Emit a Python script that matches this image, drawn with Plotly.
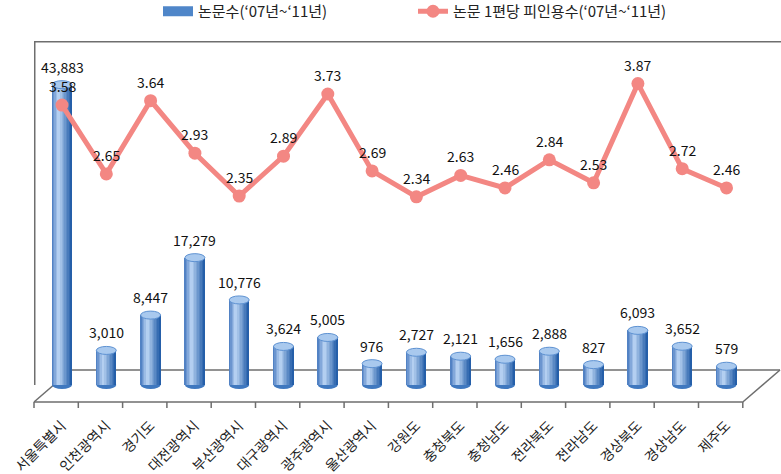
import plotly.graph_objects as go

categories = ['서울특별시', '인천광역시', '경기도', '대전광역시', '부산광역시', '대구광역시',
              '광주광역시', '울산광역시', '강원도', '충청북도', '충청남도', '전라북도',
              '전라남도', '경상북도', '경상남도', '제주도']
papers = [43883, 3010, 8447, 17279, 10776, 3624, 5005, 976, 2727, 2121, 1656, 2888,
          827, 6093, 3652, 579]
cites = [3.58, 2.65, 3.64, 2.93, 2.35, 2.89, 3.73, 2.69, 2.34, 2.63, 2.46, 2.84,
         2.53, 3.87, 2.72, 2.46]
name_bar = "논문수(‘07년~‘11년)"
name_line = "논문 1편당 피인용수(‘07년~‘11년)"

W, H = 781, 474
ML, MR, MT, MB = 34, 1, 41, 72
PW, PH = W - ML - MR, H - MT - MB
STEP = 44.3                 # px per category
FIRST = 62                  # px centre of first category
DEPTH_X, DEPTH_Y = 37, 32   # 3-D floor depth in px
BAR_PX = 0.006502           # px per paper
LINE_PX = 74.0              # px per citation unit
BASE_DROP = 15              # px the cylinders extend below back floor line

x = list(range(len(categories)))
x0 = -(FIRST - ML) / STEP
x1 = x0 + PW / STEP
y_lo = -DEPTH_Y / BAR_PX
y_hi = (PH - DEPTH_Y) / BAR_PX
y2_lo = -DEPTH_Y / LINE_PX
y2_hi = (PH - DEPTH_Y) / LINE_PX
base_val = -BASE_DROP / BAR_PX

FONT = "Noto Sans CJK KR"
BAR_W = 0.45

fig = go.Figure()

def lerp(c1, c2, t):
    return '#%02x%02x%02x' % tuple(int(round(a + (b - a) * t)) for a, b in zip(c1, c2))

left_c = (70, 120, 190)
hi_c = (190, 215, 245)
right_c = (28, 88, 165)
N = 14
for k in range(N):
    t = (k + 0.5) / N
    if t < 0.35:
        col = lerp(left_c, hi_c, t / 0.35)
    else:
        col = lerp(hi_c, right_c, (t - 0.35) / 0.65)
    w = BAR_W / N
    fig.add_trace(go.Bar(
        x=x, y=[p - base_val for p in papers], base=[base_val] * len(papers),
        width=[w * 1.05] * len(papers), offset=-BAR_W / 2 + k * w,
        marker=dict(color=col, line=dict(width=0)),
        showlegend=False, hoverinfo='skip', legendgroup='bar'))

fig.add_trace(go.Scatter(x=[None], y=[None], mode='lines', name=name_bar,
                         line=dict(color='#4f86c9', width=10), legendgroup='bar',
                         legendrank=1))

fig.add_trace(go.Scatter(
    x=x, y=cites, yaxis='y2', mode='lines+markers', name=name_line,
    line=dict(color='#F38783', width=5), marker=dict(size=13, color='#F38783'),
    legendrank=2))

shapes = []
for i, p in enumerate(papers):
    shapes.append(dict(type='circle', xref='x', yref='y', ysizemode='pixel',
                       yanchor=p, y0=-4, y1=4, x0=i - BAR_W / 2, x1=i + BAR_W / 2,
                       fillcolor='#a9c9ee', line=dict(color='#5e92d2', width=1),
                       layer='above'))
    shapes.append(dict(type='circle', xref='x', yref='y', ysizemode='pixel',
                       yanchor=base_val, y0=-4, y1=4, x0=i - BAR_W / 2, x1=i + BAR_W / 2,
                       fillcolor='#3f78bf', line=dict(width=0), layer='below'))

frame = dict(color='#6e6e6e', width=1.5)
dpx = DEPTH_X / PW
dpy = DEPTH_Y / PH
front_end = (len(categories)) * STEP / PW
shapes += [
    dict(type='line', xref='x domain', yref='y domain', x0=0, x1=1.002,
         y0=0.998, y1=0.998, line=frame, layer='above'),
    dict(type='line', xref='x domain', yref='y domain', x0=0.001, x1=0.001, y0=0.998,
         y1=(DEPTH_Y - BASE_DROP) / PH, line=frame, layer='above'),
    dict(type='line', xref='paper', yref='paper', x0=dpx, x1=1, y0=dpy, y1=dpy,
         line=frame, layer='below'),
    dict(type='line', xref='paper', yref='paper', x0=0, x1=dpx, y0=0, y1=dpy,
         line=frame, layer='below'),
    dict(type='line', xref='paper', yref='paper', x0=0, x1=front_end, y0=0, y1=0,
         line=frame),
    dict(type='line', xref='paper', yref='paper', x0=front_end, x1=1, y0=0, y1=dpy,
         line=frame),
]
for k in range(len(categories) + 1):
    xp = k * STEP / PW
    shapes.append(dict(type='line', xref='paper', yref='paper', x0=xp, x1=xp,
                       y0=0, y1=-6 / PH, line=frame))

annotations = []
for i, p in enumerate(papers):
    annotations.append(dict(x=i, y=p, xref='x', yref='y', text=f"{p:,}",
                            showarrow=False, yanchor='middle', yshift=18,
                            font=dict(family=FONT, size=14, color='#111')))
for i, c in enumerate(cites):
    annotations.append(dict(x=i, y=c, xref='x', yref='y2', text=f"{c:.2f}",
                            showarrow=False, yanchor='middle', yshift=19,
                            font=dict(family=FONT, size=14, color='#111')))

fig.update_layout(
    width=W, height=H, margin=dict(l=ML, r=MR, t=MT, b=MB, autoexpand=False),
    paper_bgcolor='white', plot_bgcolor='white', barmode='overlay', bargap=0,
    font=dict(family=FONT, size=14, color='#222'),
    xaxis=dict(range=[x0, x1], tickmode='array', tickvals=x, ticktext=categories,
               tickangle=-45, showgrid=False, zeroline=False, showline=False,
               ticks='', ticklabelstandoff=12, automargin=False,
               tickfont=dict(family=FONT, size=14, color='#222')),
    yaxis=dict(range=[y_lo, y_hi], visible=False),
    yaxis2=dict(range=[y2_lo, y2_hi], visible=False, overlaying='y'),
    legend=dict(orientation='h', x=(158 - ML) / PW, xanchor='left',
                y=1 + (MT + 5) / PH, yanchor='top', entrywidth=210, entrywidthmode='pixels',
                font=dict(family=FONT, size=15, color='#222'), bgcolor='rgba(0,0,0,0)'),
    shapes=shapes, annotations=annotations, showlegend=True,
)

fig.write_html("out.html", config={'displayModeBar': False},
               post_script="document.body.style.margin='0';document.body.style.overflow='hidden';")
